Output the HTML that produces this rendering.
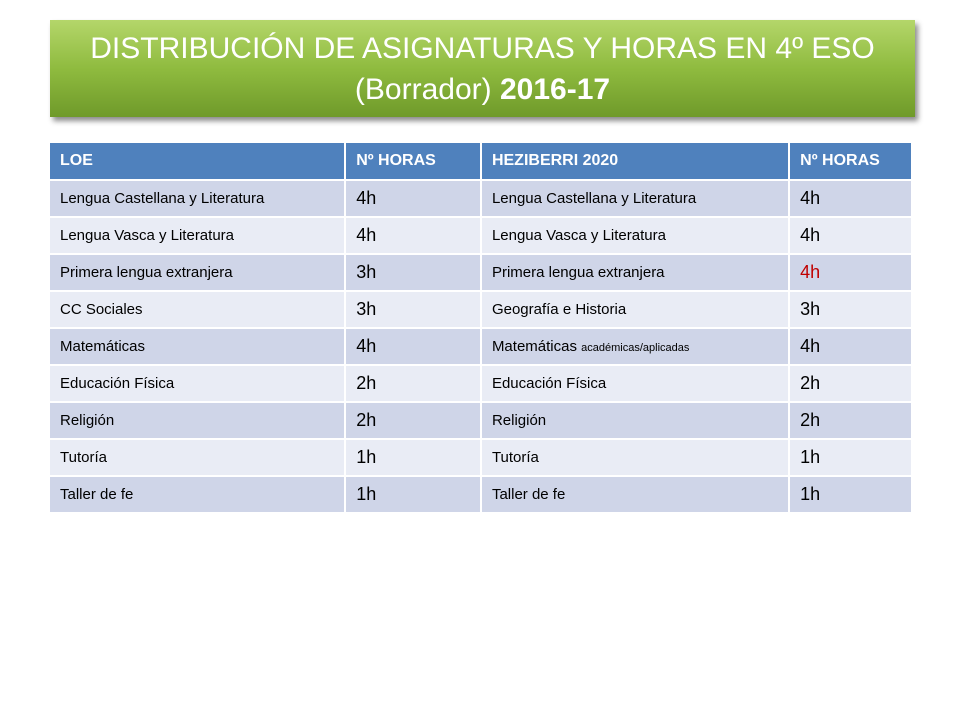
<!DOCTYPE html>
<html><head><meta charset="utf-8"><style>
body{margin:0;width:960px;height:720px;background:#fff;font-family:"Liberation Sans",sans-serif;position:relative;overflow:hidden}
#title{position:absolute;left:50px;top:20px;width:865px;height:97px;background:linear-gradient(#b4d66a,#8fbb3f 50%,#6f9a2a);box-shadow:3px 4px 5px rgba(0,0,0,.45);color:#fff;text-align:center;font-size:30px;line-height:41px;padding-top:8px;box-sizing:border-box}
table{position:absolute;left:48px;top:141px;border-collapse:collapse;width:865px}
td,th{border:2px solid #fff;padding:0 10px;text-align:left;height:35px;color:#000;font-size:15px}
th{background:#4f81bd;color:#fff;font-size:16px;height:36px}
tr:nth-child(even) td{background:#cfd5e8}
tr:nth-child(odd) td{background:#e9ecf5}
td.h{font-size:18px}
small{font-size:11px}
</style></head><body>
<div id="title">DISTRIBUCIÓN DE ASIGNATURAS Y HORAS EN 4º ESO<br>(Borrador) <b>2016-17</b></div>
<table>
<colgroup><col style="width:297px"><col style="width:136px"><col style="width:309px"><col style="width:123px"></colgroup>
<tr><th>LOE</th><th>Nº HORAS</th><th>HEZIBERRI 2020</th><th>Nº HORAS</th></tr>
<tr><td>Lengua Castellana y Literatura</td><td class="h">4h</td><td>Lengua Castellana y Literatura</td><td class="h">4h</td></tr>
<tr><td>Lengua Vasca y Literatura</td><td class="h">4h</td><td>Lengua Vasca y Literatura</td><td class="h">4h</td></tr>
<tr><td>Primera lengua extranjera</td><td class="h">3h</td><td>Primera lengua extranjera</td><td class="h" style="color:#c00000">4h</td></tr>
<tr><td>CC Sociales</td><td class="h">3h</td><td>Geografía e Historia</td><td class="h">3h</td></tr>
<tr><td>Matemáticas</td><td class="h">4h</td><td>Matemáticas <small>académicas/aplicadas</small></td><td class="h">4h</td></tr>
<tr><td>Educación Física</td><td class="h">2h</td><td>Educación Física</td><td class="h">2h</td></tr>
<tr><td>Religión</td><td class="h">2h</td><td>Religión</td><td class="h">2h</td></tr>
<tr><td>Tutoría</td><td class="h">1h</td><td>Tutoría</td><td class="h">1h</td></tr>
<tr><td>Taller de fe</td><td class="h">1h</td><td>Taller de fe</td><td class="h">1h</td></tr>
</table>
</body></html>
